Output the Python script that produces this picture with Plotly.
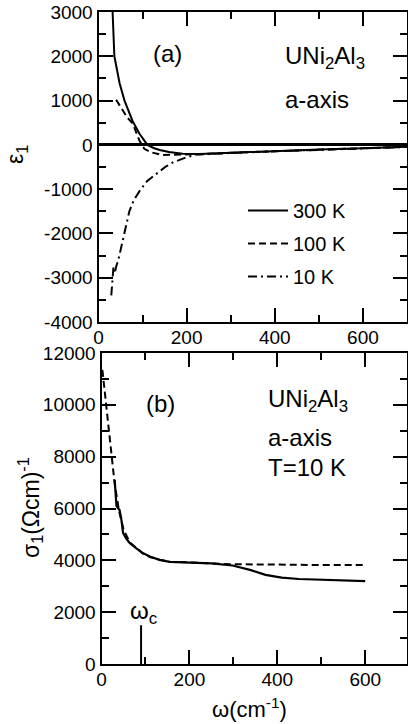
import plotly.graph_objects as go

# ---------------- data ----------------
# panel (a): epsilon_1
w_300 = [30, 32, 36, 48, 59, 68, 77, 93, 111, 125, 139, 160, 191, 230, 300, 400, 500, 600, 700]
e_300 = [3300, 3000, 2000, 1386, 1000, 760, 545, 250, 0, -70, -114, -160, -200, -205, -175, -140, -105, -75, -45]

w_100 = [40, 48, 55, 65, 78, 93, 104, 120, 145, 180, 230, 300, 400, 500, 600, 700]
e_100 = [1020, 900, 770, 620, 477, 90, -90, -170, -230, -225, -210, -180, -140, -105, -75, -45]

w_10 = [29, 31, 34, 37, 40, 45, 52, 59, 70, 80, 93, 110, 131, 150, 168, 200, 221, 250, 300, 400, 500, 600, 700]
e_10 = [-3400, -3050, -2750, -2900, -2750, -2600, -2300, -1950, -1500, -1250, -1045, -820, -660, -510, -400, -280, -220, -205, -185, -145, -108, -78, -48]

# panel (b): sigma_1 at T = 10 K
w_fit = [2, 5, 11, 17, 23, 30, 40, 50, 64, 80, 94, 110, 132, 155, 200, 250, 300, 400, 500, 600]
s_fit = [11350, 10900, 9920, 8900, 7990, 6950, 5900, 5200, 4700, 4450, 4260, 4130, 4020, 3950, 3910, 3880, 3850, 3830, 3820, 3820]

w_meas = [30, 34, 38, 41, 45, 49, 56, 64, 80, 94, 110, 132, 155, 200, 250, 298, 340, 373, 410, 449, 524, 600]
s_meas = [7100, 6100, 6000, 5950, 5600, 5060, 4850, 4670, 4450, 4280, 4150, 4020, 3940, 3920, 3880, 3800, 3620, 3440, 3330, 3280, 3240, 3200]

omega_c = [90, 90]
omega_c_mark = [0, 1500]

legend_names = ["300 K", "100 K", "10 K"]

# tick labels
x_ticks = [0, 200, 400, 600]
x_ticklabels = ["0", "200", "400", "600"]
eps_ticks = [-4000, -3000, -2000, -1000, 0, 1000, 2000, 3000]
eps_ticklabels = ["-4000", "-3000", "-2000", "-1000", "0", "1000", "2000", "3000"]
sig_ticks = [0, 2000, 4000, 6000, 8000, 10000, 12000]
sig_ticklabels = ["0", "2000", "4000", "6000", "8000", "10000", "12000"]

# ---------------- figure ----------------
W, H = 408, 724
FONT = "Liberation Sans, Arial, sans-serif"


def px(x):
    return x / W


def py(y):
    return 1 - y / H


fig = go.Figure()

fig.add_trace(go.Scatter(x=w_300, y=e_300, mode="lines", name=legend_names[0],
                         line=dict(color="black", width=2, dash="solid"),
                         xaxis="x", yaxis="y", legendgroup="a"))
fig.add_trace(go.Scatter(x=w_100, y=e_100, mode="lines", name=legend_names[1],
                         line=dict(color="black", width=2, dash="7px,4px"),
                         xaxis="x", yaxis="y", legendgroup="b"))
fig.add_trace(go.Scatter(x=w_10, y=e_10, mode="lines", name=legend_names[2],
                         line=dict(color="black", width=2, dash="9px,4px,2px,4px"),
                         xaxis="x", yaxis="y", legendgroup="c"))

fig.add_trace(go.Scatter(x=w_fit, y=s_fit, mode="lines", showlegend=False,
                         line=dict(color="black", width=2, dash="7px,4px"),
                         xaxis="x2", yaxis="y2"))
fig.add_trace(go.Scatter(x=w_meas, y=s_meas, mode="lines", showlegend=False,
                         line=dict(color="black", width=2.2, dash="solid"),
                         xaxis="x2", yaxis="y2"))
fig.add_trace(go.Scatter(x=omega_c, y=omega_c_mark, mode="lines", showlegend=False,
                         line=dict(color="black", width=2),
                         xaxis="x2", yaxis="y2"))

axis_common = dict(
    showline=True, linecolor="black", linewidth=2, mirror="ticks",
    ticks="inside", ticklen=14, tickwidth=2, tickcolor="black",
    showgrid=False, zeroline=False, automargin=False,
    tickfont=dict(family=FONT, size=19, color="black"),
)
minor_x = dict(ticks="inside", ticklen=7, tickwidth=2, tickcolor="black", dtick=100, tick0=0)

fig.update_layout(
    width=W, height=H,
    margin=dict(l=0, r=0, t=0, b=0),
    paper_bgcolor="white", plot_bgcolor="white",
    font=dict(family=FONT, color="black"),
    xaxis=dict(domain=[px(98.5), px(407)], range=[0, 700], anchor="y",
               tickmode="array", tickvals=x_ticks, ticktext=x_ticklabels,
               ticklabelstandoff=-3, minor=minor_x, **axis_common),
    yaxis=dict(domain=[py(322), py(12)], range=[-4000, 3000], anchor="x",
               tickmode="array", tickvals=eps_ticks, ticktext=eps_ticklabels,
               minor=dict(ticks="inside", ticklen=7, tickwidth=2, tickcolor="black", dtick=500, tick0=0),
               **{**axis_common, "zeroline": True, "zerolinecolor": "black", "zerolinewidth": 2.5}),
    xaxis2=dict(domain=[px(101.5), px(407)], range=[0, 695], anchor="y2",
                tickmode="array", tickvals=x_ticks, ticktext=x_ticklabels,
                ticklabelstandoff=-3, minor=minor_x, **axis_common),
    yaxis2=dict(domain=[py(664), py(353)], range=[0, 12000], anchor="x2",
                tickmode="array", tickvals=sig_ticks, ticktext=sig_ticklabels,
                minor=dict(ticks="inside", ticklen=7, tickwidth=2, tickcolor="black", dtick=1000, tick0=0),
                **axis_common),
    showlegend=True,
    legend=dict(x=px(243), y=py(191), xanchor="left", yanchor="top",
                bgcolor="rgba(0,0,0,0)", borderwidth=0,
                font=dict(family=FONT, size=20, color="black"),
                traceorder="grouped", tracegroupgap=4, itemwidth=40),
)

ann_font = dict(family=FONT, size=24, color="black")
annotations = [
    dict(text="(a)", x=px(167), y=py(53), xanchor="center", yanchor="middle", font=ann_font),
    dict(text="UNi<sub>2</sub>Al<sub>3</sub>", x=px(283), y=py(58), xanchor="left", yanchor="middle", font=ann_font),
    dict(text="a-axis", x=px(283), y=py(100), xanchor="left", yanchor="middle", font=ann_font),
    dict(text="(b)", x=px(160), y=py(403), xanchor="center", yanchor="middle", font=ann_font),
    dict(text="UNi<sub>2</sub>Al<sub>3</sub>", x=px(266), y=py(400), xanchor="left", yanchor="middle", font=ann_font),
    dict(text="a-axis", x=px(266), y=py(438), xanchor="left", yanchor="middle", font=ann_font),
    dict(text="T=10 K", x=px(266), y=py(467), xanchor="left", yanchor="middle", font=ann_font),
    dict(text="ω<sub>c</sub>", x=px(143), y=py(612), xanchor="center", yanchor="middle",
         font=dict(family=FONT, size=24, color="black")),
    dict(text="ε<sub>1</sub>", x=px(16), y=py(155), xanchor="center", yanchor="middle", textangle=-90,
         font=dict(family=FONT, size=23, color="black")),
    dict(text="σ<sub>1</sub>(Ωcm)<sup>-1</sup>", x=px(30), y=py(508), xanchor="center", yanchor="middle",
         textangle=-90, font=dict(family=FONT, size=23, color="black")),
    dict(text="ω(cm<sup>-1</sup>)", x=px(249), y=py(724), xanchor="center", yanchor="bottom",
         font=dict(family=FONT, size=22, color="black")),
]
for a in annotations:
    a.update(xref="paper", yref="paper", showarrow=False)
fig.update_layout(annotations=annotations)

fig.write_html(
    "out.html",
    config={"displayModeBar": False},
    post_script="document.body.style.margin='0';document.body.style.padding='0';",
)
